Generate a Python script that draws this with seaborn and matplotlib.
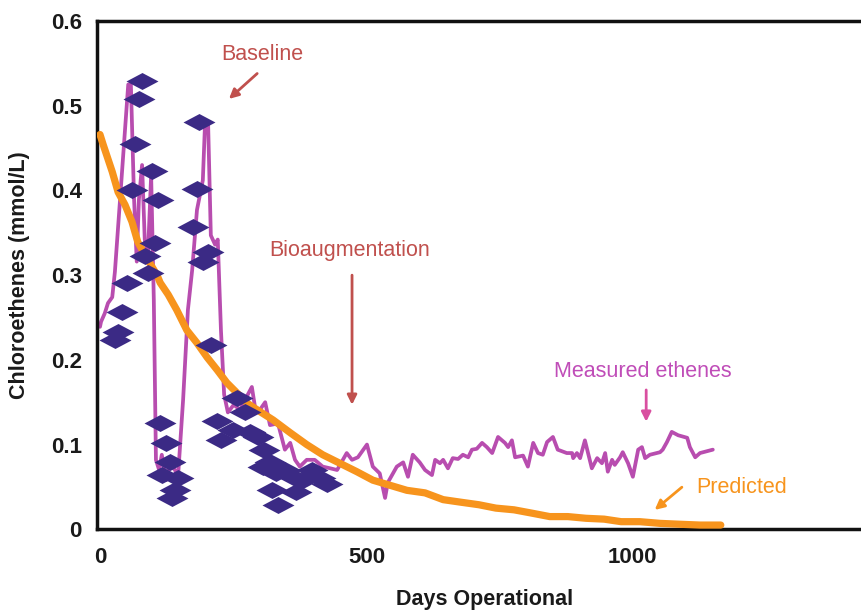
import numpy as np
import pandas as pd
import seaborn as sns
import matplotlib.pyplot as plt
from matplotlib.path import Path

sns.set_style("white")
plt.rcParams['font.family'] = ['Liberation Sans', 'DejaVu Sans']

# Chloroethene concentrations in groundwater (days, mmol/L)
chloro_days = [28, 34, 41, 51, 60, 66, 73, 79, 98, 109, 103, 84, 90, 113, 124, 131, 116, 146,
               141, 135, 186, 182, 175, 203, 193, 208, 257, 272, 220, 227, 250, 281, 296, 308,
               319, 306, 330, 366, 381, 398, 413, 426, 323, 368, 334, 347]
chloro_conc = [0.223, 0.233, 0.257, 0.291, 0.401, 0.455, 0.508, 0.529, 0.423, 0.389, 0.338,
               0.323, 0.303, 0.125, 0.102, 0.079, 0.064, 0.061, 0.046, 0.037, 0.481, 0.402,
               0.357, 0.327, 0.316, 0.218, 0.155, 0.138, 0.128, 0.105, 0.117, 0.115, 0.109,
               0.094, 0.079, 0.074, 0.066, 0.061, 0.058, 0.070, 0.061, 0.053, 0.046, 0.044,
               0.029, 0.070]

# Measured ethenes
ethene_days = [0, 2, 9, 15, 23, 28, 39, 53, 58, 64, 69, 73, 79, 84, 90, 96, 101, 105, 111, 116,
               124, 131, 141, 146, 156, 165, 173, 182, 193, 197, 203, 208, 216, 221, 227, 233,
               240, 251, 263, 274, 285, 291, 300, 310, 319, 334, 347, 357, 366, 375, 388, 403,
               418, 432, 445, 463, 473, 484, 501, 512, 525, 535, 540, 557, 569, 578, 587, 600,
               610, 623, 629, 638, 644, 653, 662, 672, 681, 691, 698, 707, 717, 726, 736, 747,
               760, 766, 773, 779, 794, 803, 813, 822, 831, 839, 850, 859, 876, 886, 888, 895,
               901, 910, 923, 933, 942, 948, 953, 961, 966, 976, 981, 991, 1000, 1010, 1017,
               1023, 1032, 1051, 1056, 1064, 1073, 1085, 1102, 1107, 1117, 1126, 1150]
ethene_conc = [0.239, 0.245, 0.255, 0.267, 0.274, 0.304, 0.401, 0.525, 0.525, 0.389, 0.316,
               0.389, 0.430, 0.342, 0.324, 0.418, 0.271, 0.082, 0.070, 0.088, 0.058, 0.076,
               0.070, 0.058, 0.153, 0.259, 0.306, 0.377, 0.412, 0.477, 0.477, 0.347, 0.336,
               0.342, 0.235, 0.159, 0.138, 0.147, 0.141, 0.155, 0.168, 0.144, 0.141, 0.150,
               0.123, 0.125, 0.094, 0.102, 0.082, 0.074, 0.082, 0.082, 0.074, 0.072, 0.070,
               0.090, 0.082, 0.085, 0.100, 0.074, 0.066, 0.037, 0.055, 0.074, 0.079, 0.062,
               0.088, 0.079, 0.070, 0.064, 0.082, 0.078, 0.082, 0.072, 0.084, 0.083, 0.088,
               0.085, 0.094, 0.095, 0.102, 0.097, 0.090, 0.109, 0.102, 0.097, 0.105, 0.085,
               0.087, 0.074, 0.102, 0.090, 0.088, 0.103, 0.109, 0.094, 0.090, 0.090, 0.084,
               0.090, 0.084, 0.105, 0.072, 0.084, 0.078, 0.090, 0.068, 0.082, 0.076, 0.085,
               0.091, 0.078, 0.062, 0.094, 0.097, 0.084, 0.088, 0.091, 0.094, 0.103, 0.115,
               0.111, 0.108, 0.097, 0.085, 0.090, 0.094]

# Model prediction
pred_days = [0, 6, 23, 34, 47, 60, 71, 88, 107, 113, 128, 144, 163, 182, 201, 220, 238, 257,
             276, 295, 325, 357, 388, 418, 450, 482, 512, 544, 576, 610, 644, 677, 711, 743,
             777, 811, 844, 878, 912, 946, 978, 1013, 1051, 1087, 1126, 1165]
pred_conc = [0.466, 0.454, 0.422, 0.398, 0.383, 0.363, 0.339, 0.320, 0.300, 0.291, 0.277,
             0.259, 0.235, 0.220, 0.203, 0.188, 0.173, 0.161, 0.149, 0.141, 0.129, 0.114,
             0.100, 0.088, 0.078, 0.068, 0.058, 0.052, 0.046, 0.043, 0.035, 0.032, 0.029,
             0.025, 0.023, 0.019, 0.015, 0.015, 0.013, 0.012, 0.009, 0.009, 0.007, 0.006,
             0.005, 0.005]

x_ticks = [0, 500, 1000]
y_ticks = [0, 0.1, 0.2, 0.3, 0.4, 0.5, 0.6]
y_tick_labels = ["0", "0.1", "0.2", "0.3", "0.4", "0.5", "0.6"]

PURPLE = "#3b2a85"
MAGENTA = "#b84daf"
ORANGE = "#f7941d"
RED = "#c0504d"

chloro = pd.DataFrame({"day": chloro_days, "conc": chloro_conc})
ethene = pd.DataFrame({"day": ethene_days, "conc": ethene_conc})
pred = pd.DataFrame({"day": pred_days, "conc": pred_conc})

fig = plt.figure(figsize=(8.62, 6.10), dpi=100)
ax = fig.add_axes([97 / 862, 80.7 / 610, 1 - 97 / 862, 508.3 / 610])

sns.lineplot(data=ethene, x="day", y="conc", ax=ax, color=MAGENTA, linewidth=2.7,
             sort=False, estimator=None, zorder=2)
sns.lineplot(data=pred, x="day", y="conc", ax=ax, color=ORANGE, linewidth=5.2,
             sort=False, estimator=None, zorder=3, solid_capstyle="round")

diamond = Path([(-1, 0), (0, 0.53), (1, 0), (0, -0.53), (-1, 0)],
               [Path.MOVETO, Path.LINETO, Path.LINETO, Path.LINETO, Path.CLOSEPOLY])
sns.scatterplot(data=chloro, x="day", y="conc", ax=ax, marker=diamond, s=530,
                color=PURPLE, linewidth=0, zorder=4)

ax.set_xlim(-5.6, 1430)
ax.set_ylim(0, 0.6)
ax.set_xticks(x_ticks)
ax.set_xticklabels([str(t) for t in x_ticks])
ax.set_yticks(y_ticks)
ax.set_yticklabels(y_tick_labels)

for side in ["left", "bottom", "top"]:
    ax.spines[side].set_visible(True)
    ax.spines[side].set_color("#111111")
    ax.spines[side].set_linewidth(2.5)
ax.spines["right"].set_visible(False)

ax.tick_params(axis="both", direction="out", length=5, width=1.6, color="#111111",
               labelsize=16, pad=6)
ax.tick_params(axis="x", pad=8)
for lab in ax.get_xticklabels() + ax.get_yticklabels():
    lab.set_fontweight("bold")
    lab.set_color("#1a1a1a")

ax.set_xlabel("Days Operational", fontsize=15.5, fontweight="bold", color="#1a1a1a")
ax.set_ylabel("Chloroethenes (mmol/L)", fontsize=15.5, fontweight="bold", color="#1a1a1a")
ax.xaxis.set_label_coords(0.507, -0.139)
ax.xaxis.label.set_va("center")
ax.yaxis.set_label_coords(-0.1007, 0.5)
ax.yaxis.label.set_va("center")

arrow_kw = dict(arrowstyle="-|>", lw=2, mutation_scale=14, shrinkA=0, shrinkB=0)

ax.text(304, 0.560, "Baseline", color=RED, fontsize=15.5, ha="center", va="center")
ax.annotate("", xy=(242, 0.508), xytext=(295, 0.538),
            arrowprops=dict(color=RED, **arrow_kw))

ax.text(469, 0.329, "Bioaugmentation", color=RED, fontsize=15.5, ha="center", va="center")
ax.annotate("", xy=(473, 0.147), xytext=(473, 0.300),
            arrowprops=dict(color=RED, **arrow_kw))

ax.text(1019, 0.186, "Measured ethenes", color="#c04db8", fontsize=15.5,
        ha="center", va="center")
ax.annotate("", xy=(1025, 0.127), xytext=(1025, 0.1645),
            arrowprops=dict(color="#d94fa0", **arrow_kw))

ax.text(1205, 0.049, "Predicted", color=ORANGE, fontsize=15.5, ha="center", va="center")
ax.annotate("", xy=(1041, 0.0229), xytext=(1092, 0.0497),
            arrowprops=dict(color=ORANGE, **arrow_kw))

fig.savefig("out.png", dpi=100)
